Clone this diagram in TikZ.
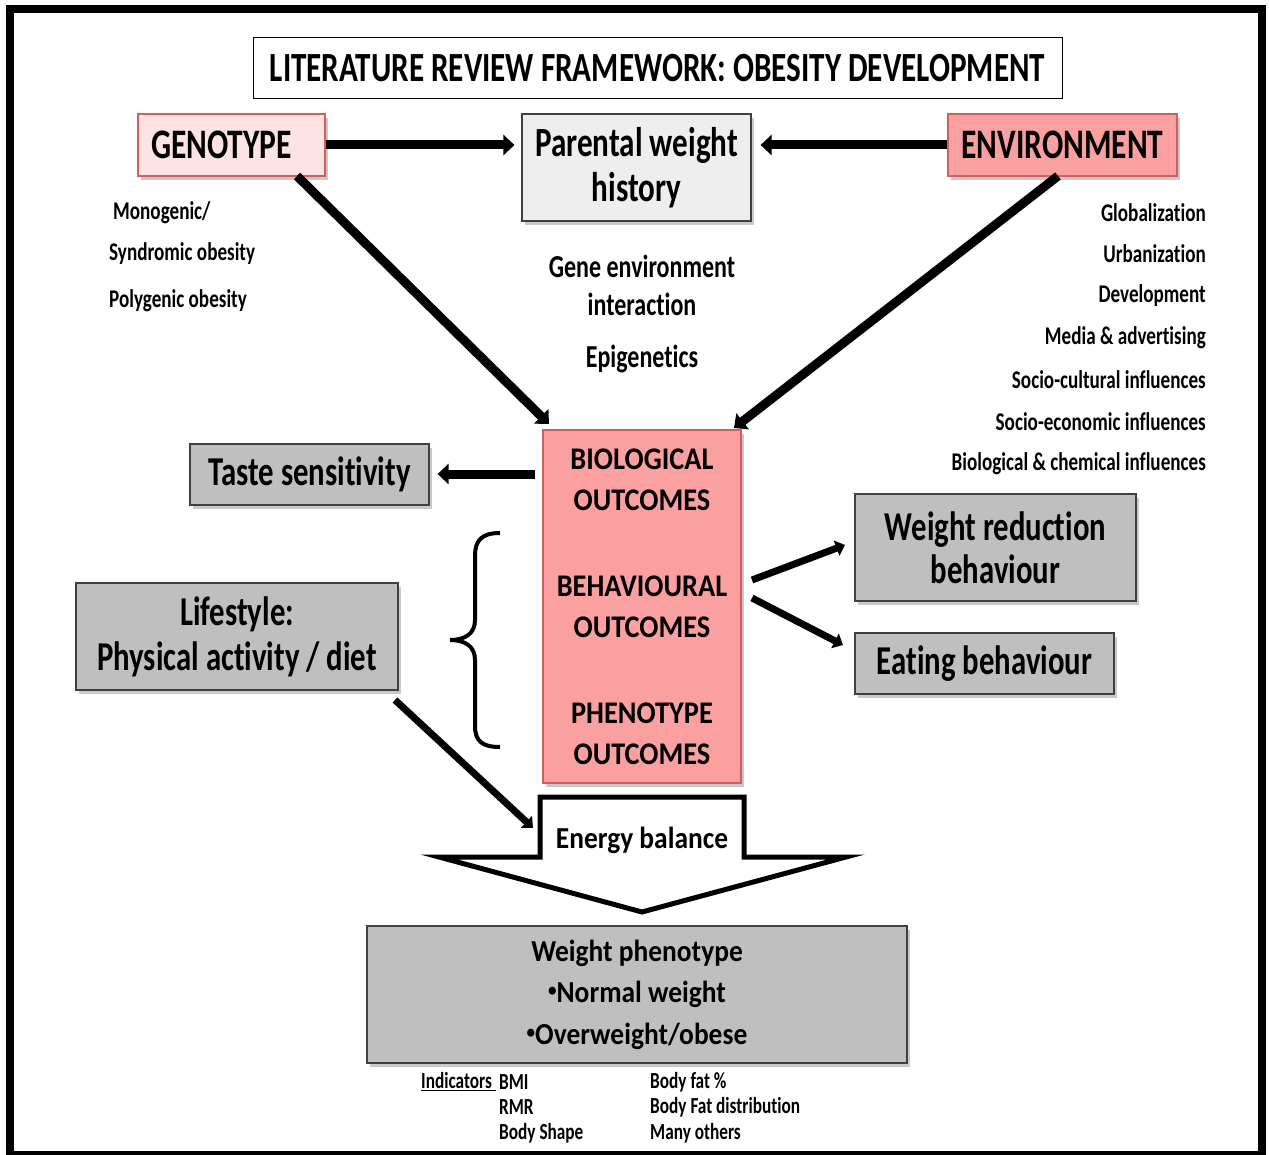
\documentclass[tikz,border=0pt]{standalone}
\usepackage{fontspec}
\setmainfont[FakeStretch=0.75,Ligatures=NoCommon]{Carlito}
\newfontfamily\widefont[FakeStretch=0.9,Ligatures=NoCommon]{Carlito}
\usetikzlibrary{arrows.meta,shadows,calc}
\definecolor{pinklight}{HTML}{FDE3E3}
\definecolor{salmon}{HTML}{FBA0A0}
\definecolor{boxred}{HTML}{D06060}
\definecolor{graybox}{HTML}{BFBFBF}
\definecolor{lightbox}{HTML}{EEEEEE}
\newcommand{\fsz}[1]{\fontsize{#1}{#1}\selectfont\bfseries}
\newcommand{\wsz}[1]{\widefont\fontsize{#1}{#1}\selectfont\bfseries}
\newcommand{\smallbul}{\raisebox{0.2em}{\fontsize{19}{19}\selectfont\textbullet}}
\tikzset{
  shad/.style={drop shadow={shadow xshift=3pt,shadow yshift=-4pt,opacity=0.35,fill=black!60}},
  graynode/.style={draw=black!75,line width=1.2pt,fill=graybox,shad,inner sep=0pt,align=center},
  rednode/.style={draw=boxred,line width=1.2pt,shad,inner sep=0pt,align=center},
  bigarrow/.style={line width=9pt,-{Triangle[length=11pt,width=20pt]}},
  midarrow/.style={line width=7pt,-{Triangle[length=9pt,width=16pt]}},
  smalltext/.style={inner sep=0pt,font=\fsz{25.5}},
  indtext/.style={inner sep=0pt,anchor=west,font=\fsz{23}},
}
\begin{document}
\begin{tikzpicture}[x=1pt,y=-1pt]
\useasboundingbox (0,0) rectangle (1269,1155);
\fill[white] (0,0) rectangle (1269,1155);
\draw[line width=8pt] (10,9) rectangle (1262,1155);

% title
\node[draw=black,line width=1pt,fill=white,minimum width=809pt,minimum height=61pt,inner sep=0pt,font=\fsz{41.5}] (title) at (657.5,68.5) {LITERATURE REVIEW FRAMEWORK: OBESITY DEVELOPMENT};

% top boxes
\node[rednode,fill=pinklight,minimum width=187pt,minimum height=62pt,font=\fsz{42}] (geno) at (231.5,145) {GENOTYPE\hspace*{20pt}};
\node[draw=black!75,line width=1.2pt,fill=lightbox,shad,inner sep=0pt,align=center,minimum width=229pt,minimum height=107pt,font=\fsz{41.5}] (parent) at (636.5,167.5) {Parental weight\\[3pt]history};
\node[rednode,fill=salmon,minimum width=229pt,minimum height=62pt,font=\fsz{42}] (env) at (1062.5,145) {ENVIRONMENT};

\draw[bigarrow,shorten >=7pt] (geno.east) -- (geno.east -| parent.west);
\draw[bigarrow,shorten >=9pt] (env.west) -- (env.west -| parent.east);

% outcomes
\node[rednode,fill=salmon,minimum width=198pt,minimum height=353pt] (out) at (642,606.5) {};
\node[inner sep=0pt,align=center,font=\wsz{31.5}] (bio) at (642,480) {BIOLOGICAL\\[9pt]OUTCOMES};
\node[inner sep=0pt,align=center,font=\wsz{31.5}] (beh) at (642,607) {BEHAVIOURAL\\[9pt]OUTCOMES};
\node[inner sep=0pt,align=center,font=\wsz{31.5}] (phe) at (642,734) {PHENOTYPE\\[9pt]OUTCOMES};

\coordinate (gstart) at (297,176);
\coordinate (gend) at (549,424);
\coordinate (estart) at (1058,176);
\coordinate (eend) at (734,428);
\draw[bigarrow] (gstart) -- (gend);
\draw[bigarrow] (estart) -- (eend);

% left texts
\node[smalltext,anchor=west] (mono) at (113,213) {Monogenic/};
\node[smalltext,anchor=west] (synd) at (109,254) {Syndromic obesity};
\node[smalltext,anchor=west] (poly) at (109,301) {Polygenic obesity};

% middle texts
\node[inner sep=0pt,align=center,font=\fsz{32}] (gei) at (642,285) {Gene environment\\[6pt]interaction};
\node[inner sep=0pt,font=\fsz{32}] (epi) at (642,359) {Epigenetics};

% right texts
\node[smalltext,anchor=east] (r1) at (1206,213) {Globalization};
\node[smalltext,anchor=east] (r2) at (1206,254) {Urbanization};
\node[smalltext,anchor=east] (r3) at (1206,296) {Development};
\node[smalltext,anchor=east] (r4) at (1206,338) {Media \& advertising};
\node[smalltext,anchor=east] (r5) at (1206,380) {Socio-cultural influences};
\node[smalltext,anchor=east] (r6) at (1206,422) {Socio-economic influences};
\node[smalltext,anchor=east] (r7) at (1206,464) {Biological \& chemical influences};

% taste
\node[graynode,minimum width=239pt,minimum height=61pt,font=\fsz{41}] (taste) at (309.5,474.5) {Taste sensitivity};
\coordinate (tstart) at (535,474);
\draw[bigarrow,shorten >=8pt] (tstart) -- (tstart -| taste.east);

% brace
\draw[line width=4pt] (500,533) .. controls (482,533) and (475,540) .. (475,556) -- (475,620) .. controls (475,633) and (466,640) .. (450,640) .. controls (466,640) and (475,647) .. (475,660) -- (475,726) .. controls (475,741) and (482,747) .. (500,747);

% lifestyle
\node[graynode,minimum width=322pt,minimum height=107pt,font=\fsz{41}] (life) at (237,636.5) {Lifestyle:\\[4pt]Physical activity / diet};

% right behaviour boxes
\node[graynode,minimum width=281pt,minimum height=107pt,font=\fsz{41}] (wrb) at (995.5,547.5) {Weight reduction\\[2pt]behaviour};
\node[graynode,minimum width=259pt,minimum height=61pt,font=\fsz{41}] (eat) at (984.5,663.5) {Eating behaviour};
\coordinate (b1) at (752,580);
\coordinate (b2) at (752,598);
\draw[midarrow] (b1) -- (845,545);
\draw[midarrow] (b2) -- (843,645);

% energy balance block arrow
\draw[line width=5pt,fill=white,line join=miter] (540,797) -- (744,797) -- (744,857) -- (846,857) -- (642,912) -- (439,857) -- (540,857) -- cycle;
\node[inner sep=0pt,font=\wsz{30.5}] (energy) at (642,840) {Energy balance};
\coordinate (lstart) at (395,700);
\draw[midarrow] (lstart) -- (533,828);

% weight phenotype
\node[graynode,minimum width=540pt,minimum height=137pt,font=\wsz{30.5}] (wp) at (637,994.5) {Weight phenotype\\[11pt]\smallbul Normal weight\\[11pt]\smallbul Overweight/obese};

% indicators
\node[indtext] (ind) at (421,1082) {\underline{Indicators\ }};
\node[indtext] (i1) at (499,1082) {BMI};
\node[indtext] (i2) at (499,1107) {RMR};
\node[indtext] (i3) at (499,1133) {Body Shape};
\node[indtext] (i4) at (650,1082) {Body fat \%};
\node[indtext] (i5) at (650,1107) {Body Fat distribution};
\node[indtext] (i6) at (650,1133) {Many others};
\end{tikzpicture}
\end{document}
